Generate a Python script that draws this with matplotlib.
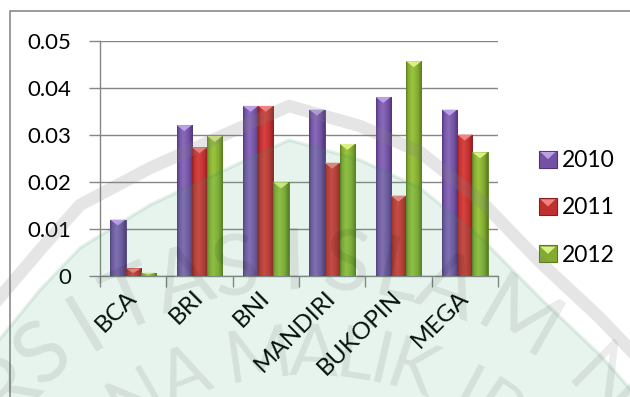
import numpy as np
import matplotlib
matplotlib.use("Agg")
from matplotlib import pyplot as plt
from matplotlib.colors import LinearSegmentedColormap
from matplotlib.patches import Rectangle, Polygon
from matplotlib.legend_handler import HandlerBase

# data
banks = ["BCA", "BRI", "BNI", "MANDIRI", "BUKOPIN", "MEGA"]
years = ["2010", "2011", "2012"]
v2010 = [0.0120, 0.0321, 0.0362, 0.0354, 0.0381, 0.0354]
v2011 = [0.0016, 0.0274, 0.0362, 0.0241, 0.0171, 0.0301]
v2012 = [0.0007, 0.0298, 0.0199, 0.0281, 0.0457, 0.0263]
yticks = [0, 0.01, 0.02, 0.03, 0.04, 0.05]
ylabels = ["0", "0.01", "0.02", "0.03", "0.04", "0.05"]

series = [v2010, v2011, v2012]
base = ["#7352a3", "#c0302f", "#82ab30"]
light = ["#8a6bbb", "#d94341", "#9cc541"]
dark = ["#4f3578", "#862020", "#587a1e"]
tip = ["#bba0e8", "#f28282", "#daef86"]

plt.rcParams["font.family"] = ["Lato", "DejaVu Sans"]
fig = plt.figure(figsize=(6.3, 3.97), dpi=100)

ax = fig.add_axes([100 / 630, 1 - 276 / 397, 398 / 630, 235 / 397])
ax.patch.set_alpha(0)

x = np.arange(len(banks))
w = 0.23
grad = np.linspace(0, 1, 64).reshape(1, -1)
th = 0.05 * 6 / 235

for i, vals in enumerate(series):
    cmap = LinearSegmentedColormap.from_list(
        "c%d" % i, [(0, dark[i]), (0.12, base[i]), (0.4, light[i]), (0.75, base[i]), (1, dark[i])])
    bars = ax.bar(x + (i - 1) * w, vals, w, color=base[i], edgecolor=dark[i],
                  linewidth=0.6, zorder=3)
    for b in bars:
        x0, h = b.get_x(), b.get_height()
        im = ax.imshow(grad, cmap=cmap, extent=(x0, x0 + w, 0, h), aspect="auto",
                       zorder=3.1, interpolation="bicubic")
        im.set_clip_path(b)
        t = min(th, h * 0.6)
        ax.add_patch(Polygon([(x0, h), (x0 + w, h), (x0 + w / 2, h - t)],
                             closed=True, facecolor=tip[i], edgecolor="none", zorder=3.2))

ax.set_xlim(-0.5, len(banks) - 0.5)
ax.set_ylim(0, 0.05)
ax.set_yticks(yticks)
ax.set_yticklabels(ylabels)
ax.set_xticks(np.arange(len(banks) + 1) - 0.5)
ax.set_xticklabels([])
ax.set_xticks(x, minor=True)
ax.set_xticklabels(banks, minor=True, rotation=45, ha="right", va="center",
                   rotation_mode="anchor")
ax.tick_params(axis="x", which="major", length=8, color="#868686", width=1)
ax.tick_params(axis="x", which="minor", length=0, pad=13, labelsize=17.5)
ax.tick_params(axis="y", length=8, color="#868686", width=1, pad=13, labelsize=16)
ax.grid(axis="y", color="#868686", linewidth=1, zorder=1)
ax.set_axisbelow(True)
for s in ["top", "right"]:
    ax.spines[s].set_visible(False)
for s in ["left", "bottom"]:
    ax.spines[s].set_color("#868686")
    ax.spines[s].set_linewidth(1)


class SquareHandler(HandlerBase):
    def __init__(self, i):
        super().__init__()
        self.i = i

    def create_artists(self, legend, orig, xd, yd, width, height, fontsize, trans):
        i = self.i
        sq = Rectangle((-xd, -yd), width, height, facecolor=base[i], edgecolor=dark[i],
                       linewidth=0.8, transform=trans)
        tri = Polygon([(-xd + 1, -yd + height - 1), (-xd + width - 1, -yd + height - 1),
                       (-xd + width / 2, -yd + height * 0.5)], closed=True,
                      facecolor=tip[i], edgecolor="none", transform=trans)
        return [sq, tri]


handles = [Rectangle((0, 0), 1, 1) for _ in years]
ax.legend(handles, years, handler_map={h: SquareHandler(i) for i, h in enumerate(handles)},
          loc="center left", bbox_to_anchor=(539 / 630, 1 - 208 / 397),
          bbox_transform=fig.transFigure, frameon=False, fontsize=16.5,
          handlelength=0.78, handleheight=0.78, handletextpad=0.22, labelspacing=1.15,
          borderpad=0, borderaxespad=0)

# outer chart frame
fig.add_artist(Rectangle((10 / 630, -0.1), 1.2, 1 - 11 / 397 + 0.1, transform=fig.transFigure,
                         facecolor="none", edgecolor="#8a8a8a", linewidth=1.2))

# faint watermark laid over the page
ov = fig.add_axes([0, 0, 1, 1], zorder=10)
ov.set_xlim(0, 630)
ov.set_ylim(397, 0)
ov.axis("off")
ov.patch.set_alpha(0)
roof = [(-5, 345), (40, 290), (80, 248), (150, 205), (289, 140), (360, 160), (420, 188),
        (480, 237), (540, 298), (600, 355), (640, 400)]
ov.add_patch(Polygon(roof + [(640, 400), (-5, 400)], closed=True,
                     facecolor="#3ca070", alpha=0.12, edgecolor="none"))
rx, ry = zip(*roof)
ov.plot(rx, ry, color="#2e8a5e", alpha=0.12, lw=2.5)
band = [(-5, 303), (40, 250), (80, 205), (150, 168), (289, 106), (360, 126), (420, 152),
        (480, 200), (540, 262), (600, 318), (640, 360)]
bx, by = zip(*band)
ov.plot(bx, by, color="#808080", alpha=0.2, lw=9)

cx, cy = 305, 690
outer = ["R", "S", "I", "T", "A", "S", "I", "S", "L", "A", "M", "N"]
outer_ang = [-44.5, -38.0, -31.0, -24.0, -16.5, -9.5, -1.5, 5.5, 12.5, 19.5, 30.0, 44.5]
for ch, a in zip(outer, outer_ang):
    r = np.radians(a)
    ov.text(cx + 425 * np.sin(r), cy - 425 * np.cos(r), ch, rotation=-a, ha="center",
            va="center", fontsize=62, color="black", alpha=0.08)
inner = ["N", "A", "M", "A", "L", "I", "K", "I", "B"]
inner_ang = [-30.0, -21.0, -8.0, 1.5, 8.5, 13.0, 18.5, 28.5, 34.5]
for ch, a in zip(inner, inner_ang):
    r = np.radians(a)
    ov.text(cx + 335 * np.sin(r), cy - 335 * np.cos(r), ch, rotation=-a, ha="center",
            va="center", fontsize=52, color="black", alpha=0.08)

fig.savefig("out.png", dpi=100)
